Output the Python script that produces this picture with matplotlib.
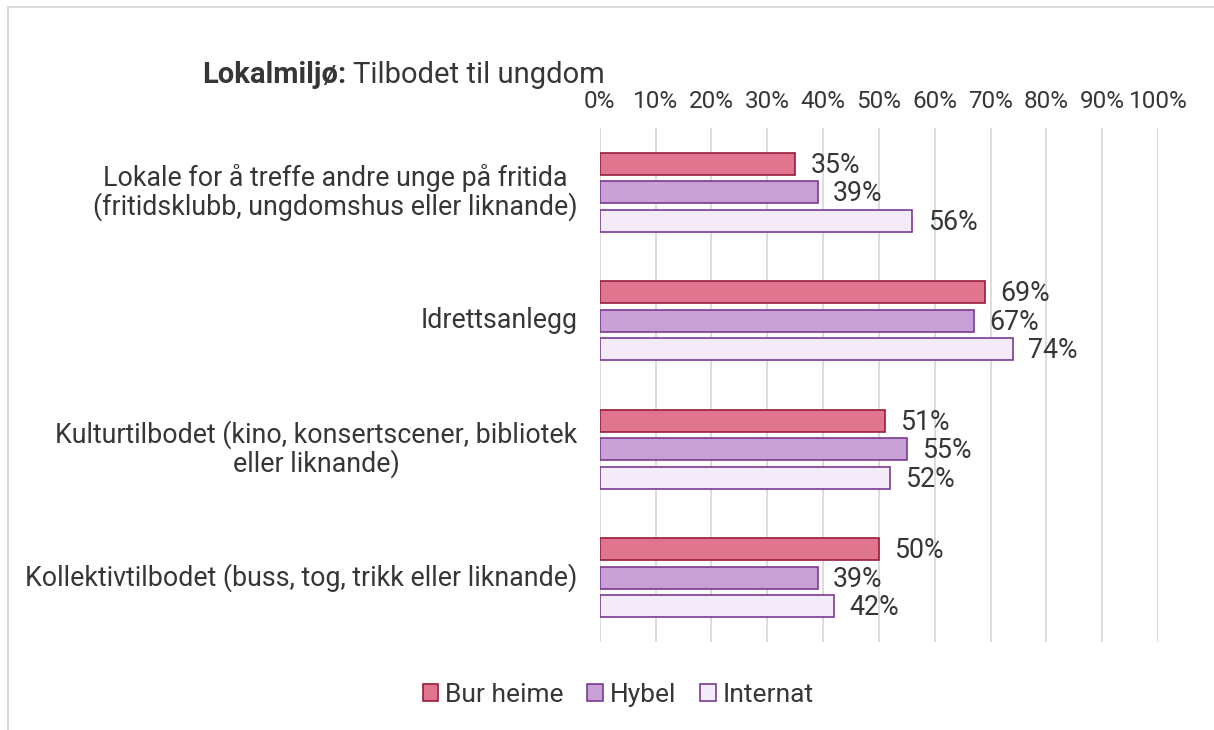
import numpy as np
import matplotlib.pyplot as plt
from matplotlib.patches import Patch
from matplotlib.lines import Line2D

# ---- data -------------------------------------------------------------------
categories = [
    "Lokale for å treffe andre unge på fritida\n(fritidsklubb, ungdomshus eller liknande)",
    "Idrettsanlegg",
    "Kulturtilbodet (kino, konsertscener, bibliotek\neller liknande)",
    "Kollektivtilbodet (buss, tog, trikk eller liknande)",
]
series_names = ["Bur heime", "Hybel", "Internat"]
bur_heime = [35, 69, 51, 50]
hybel = [39, 67, 55, 39]
internat = [56, 74, 52, 42]

fills = ["#E07590", "#C9A0D6", "#F4EBF8"]
edges = ["#9B1D3D", "#7A3A92", "#7A3A92"]

plt.rcParams["font.family"] = ["Roboto", "DejaVu Sans"]
text_col = "#363636"

fig = plt.figure(figsize=(12.14, 7.3), dpi=100)
ax = fig.add_axes([0.494, 0.1205, 0.46, 0.7042])

# ---- bars -------------------------------------------------------------------
y = np.arange(len(categories))
offset = 0.222
height = 0.17
for i, vals in enumerate([bur_heime, hybel, internat]):
    pos = y + (i - 1) * offset
    ax.barh(pos, vals, height=height, color=fills[i], edgecolor=edges[i],
            linewidth=1.2, label=series_names[i], zorder=3)
    for p, v in zip(pos, vals):
        ax.annotate(f"{v}%", (v, p), xytext=(11, -1), textcoords="offset points",
                    ha="left", va="center", fontsize=19.3, color=text_col)

ax.set_xlim(0, 100)
ax.set_ylim(3.5, -0.5)
ax.set_xticks(range(0, 101, 10))
ax.set_xticklabels([f"{t}%" for t in range(0, 101, 10)])
ax.xaxis.tick_top()
ax.tick_params(axis="x", length=0, pad=11, labelsize=17.5, labelcolor=text_col)
ax.set_yticks([])
ax.grid(axis="x", color="#D9D9D9", linewidth=1.3, zorder=0)
for s in ax.spines.values():
    s.set_visible(False)

# category labels, right-aligned with centred lines
for yi, cat in zip(y, categories):
    ax.text(-0.04, yi, cat, transform=ax.get_yaxis_transform(),
            ha="right", va="center", multialignment="center",
            fontsize=19.3, color=text_col, linespacing=1.0)

# ---- title ------------------------------------------------------------------
t1 = fig.text(202 / 1214, 1 - 75 / 730, "Lokalmiljø:", fontsize=21,
              fontweight="bold", color=text_col, va="center")
fig.canvas.draw()
bb = t1.get_window_extent()
fig.text((bb.x1 + 7) / 1214, 1 - 75 / 730, "Tilbodet til ungdom", fontsize=21,
         color=text_col, va="center")

# ---- legend -----------------------------------------------------------------
handles = [Patch(facecolor=fills[i], edgecolor=edges[i], linewidth=1.2)
           for i in range(3)]
fig.legend(handles, series_names, loc="center", bbox_to_anchor=(618 / 1214, 1 - 695 / 730),
           ncol=3, frameon=False, fontsize=19, handlelength=0.6, handleheight=0.6,
           handletextpad=0.25, columnspacing=0.9, labelcolor=text_col)

# ---- outer border -------------------------------------------------------------
fig.add_artist(Line2D([8 / 1214, 8 / 1214], [0, 1 - 7 / 730], color="#D9D9D9", lw=1.5))
fig.add_artist(Line2D([8 / 1214, 1], [1 - 7 / 730, 1 - 7 / 730], color="#D9D9D9", lw=1.5))

fig.savefig("out.png", dpi=100)
